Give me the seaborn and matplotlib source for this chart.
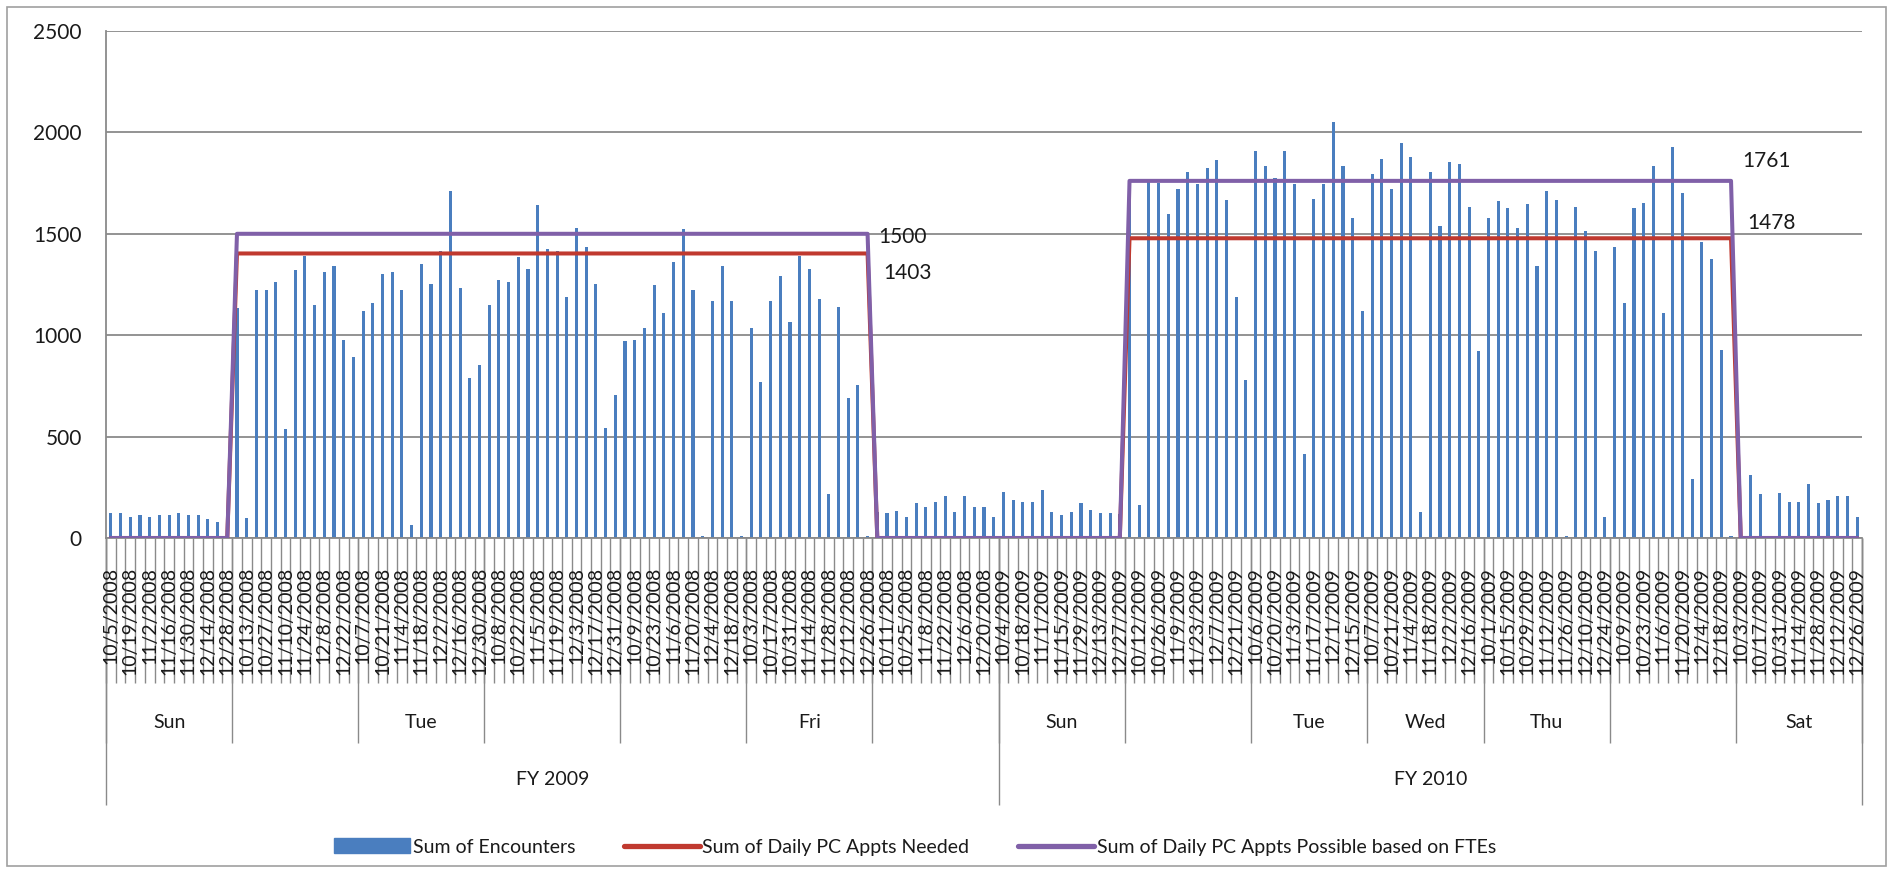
import numpy as np
import pandas as pd
import matplotlib
matplotlib.use("Agg")
import matplotlib.pyplot as plt
import seaborn as sns
from matplotlib.patches import Patch, Rectangle
from matplotlib.lines import Line2D

# ---------------- data ----------------
fiscal_years = ["FY 2009", "FY 2010"]
fy_date_ranges = [("2008-10-01", "2008-12-31"), ("2009-10-01", "2009-12-28")]
weekdays = ["Sun", "Mon", "Tue", "Wed", "Thu", "Fri", "Sat"]
weekday_labels_fy09 = ["Sun", "", "Tue", "", "", "Fri", ""]
weekday_labels_fy10 = ["Sun", "", "Tue", "Wed", "Thu", "", "Sat"]

enc_fy09_sun = [122, 122, 103, 111, 103, 111, 111, 121, 111, 111, 93, 81, 85]
enc_fy09_mon = [1132, 101, 1225, 1225, 1262, 538, 1320, 1390, 1148, 1311, 1339, 977, 891]
enc_fy09_tue = [1121, 1157, 1302, 1310, 1225, 65, 1349, 1254, 1414, 1710, 1233, 787, 854]
enc_fy09_wed = [1148, 1271, 1262, 1385, 1328, 1642, 1425, 1416, 1189, 1531, 1437, 1254, 541, 704]
enc_fy09_thu = [969, 977, 1034, 1246, 1111, 1360, 1523, 1225, 8, 1170, 1341, 1170, 8]
enc_fy09_fri = [1034, 771, 1170, 1293, 1064, 1390, 1328, 1178, 218, 1140, 692, 753, 10]
enc_fy09_sat = [130, 122, 134, 103, 171, 151, 176, 209, 130, 209, 151, 151, 103]

enc_fy10_sun = [225, 187, 176, 176, 236, 130, 111, 130, 171, 138, 122, 122, 120]
enc_fy10_mon = [1750, 163, 1755, 1750, 1596, 1722, 1805, 1746, 1824, 1862, 1665, 1186, 777]
enc_fy10_tue = [1909, 1833, 1776, 1909, 1745, 415, 1673, 1746, 2053, 1833, 1577, 1121]
enc_fy10_wed = [1797, 1870, 1722, 1947, 1881, 130, 1805, 1539, 1854, 1846, 1634, 920]
enc_fy10_thu = [1577, 1662, 1626, 1531, 1645, 1341, 1710, 1665, 8, 1634, 1512, 1417, 106]
enc_fy10_fri = [1434, 1161, 1626, 1653, 1833, 1111, 1930, 1702, 293, 1458, 1376, 929, 8]
enc_fy10_sat = [120, 310, 215, 0, 223, 179, 179, 264, 171, 187, 209, 209, 103]

needed_fy09 = [0, 1403, 1403, 1403, 1403, 1403, 0]
needed_fy10 = [0, 1478, 1478, 1478, 1478, 1478, 0]
possible_fy09 = [0, 1500, 1500, 1500, 1500, 1500, 0]
possible_fy10 = [0, 1761, 1761, 1761, 1761, 1761, 0]

series_names = ["Sum of Encounters", "Sum of Daily PC Appts Needed",
                "Sum of Daily PC Appts Possible based on FTEs"]
y_ticks = [0, 500, 1000, 1500, 2000, 2500]

enc_groups = [
    [enc_fy09_sun, enc_fy09_mon, enc_fy09_tue, enc_fy09_wed, enc_fy09_thu, enc_fy09_fri, enc_fy09_sat],
    [enc_fy10_sun, enc_fy10_mon, enc_fy10_tue, enc_fy10_wed, enc_fy10_thu, enc_fy10_fri, enc_fy10_sat],
]
needed_groups = [needed_fy09, needed_fy10]
possible_groups = [possible_fy09, possible_fy10]
weekday_label_groups = [weekday_labels_fy09, weekday_labels_fy10]

# python weekday(): Mon=0 ... Sun=6
wd_index = {"Sun": 6, "Mon": 0, "Tue": 1, "Wed": 2, "Thu": 3, "Fri": 4, "Sat": 5}

rows = []
pos = 0
for f, fy in enumerate(fiscal_years):
    days = pd.date_range(*fy_date_ranges[f])
    for w, wd in enumerate(weekdays):
        ds = [d for d in days if d.weekday() == wd_index[wd]]
        vals = enc_groups[f][w]
        for d, v in zip(ds, vals):
            rows.append(dict(pos=pos, date=f"{d.month}/{d.day}/{d.year}", fy=f, wd=w,
                             enc=v, needed=needed_groups[f][w], possible=possible_groups[f][w]))
            pos += 1
df = pd.DataFrame(rows)
N = len(df)

# ---------------- style ----------------
sns.set_theme(style="white")
plt.rcParams["font.family"] = ["Lato", "DejaVu Sans"]
BLUE = "#4a7ebf"
RED = "#c0392f"
PURPLE = "#8060a8"
GRID = "#8a8a8a"
TXT = "#1a1a1a"

fig = plt.figure(figsize=(18.96, 8.73), dpi=100)
fig.patch.set_facecolor("white")
ax = fig.add_axes([106 / 1896, 1 - 538 / 873, (1862 - 106) / 1896, (538 - 31) / 873])

sns.barplot(data=df, x="pos", y="enc", native_scale=True, width=0.32, color=BLUE,
            saturation=1, linewidth=0, ax=ax, zorder=2)
sns.lineplot(data=df, x="pos", y="needed", color=RED, lw=2.9, ax=ax,
             estimator=None, sort=False, zorder=3)
sns.lineplot(data=df, x="pos", y="possible", color=PURPLE, lw=2.9, ax=ax,
             estimator=None, sort=False, zorder=4)

ax.set_xlim(-0.5, N - 0.5)
ax.set_ylim(0, 2500)
ax.set_yticks(y_ticks)
ax.set_yticklabels([str(t) for t in y_ticks])
ax.set_xticks([])
ax.set_xlabel("")
ax.set_ylabel("")
ax.yaxis.grid(True, color=GRID, lw=1.3)
ax.set_axisbelow(True)
for s in ["top", "right"]:
    ax.spines[s].set_visible(False)
for s in ["left", "bottom"]:
    ax.spines[s].set_color(GRID)
    ax.spines[s].set_linewidth(1.3)
ax.tick_params(axis="y", length=6.5, color=GRID, width=1.2, pad=11, labelsize=15, labelcolor=TXT)

# ---------------- hierarchical x axis ----------------
xt = ax.get_xaxis_transform()
bounds = np.arange(N + 1) - 0.5
ax.vlines(bounds, -0.286, 0, transform=xt, clip_on=False, colors=GRID, lw=1.0)

grp = df.groupby(["fy", "wd"])["pos"].agg(["min", "max"]).reset_index()
grp_bounds = sorted(set(list(grp["min"] - 0.5) + [N - 0.5]))
ax.vlines(grp_bounds, -0.404, 0, transform=xt, clip_on=False, colors=GRID, lw=1.0)

fyg = df.groupby("fy")["pos"].agg(["min", "max"]).reset_index()
fy_bounds = list(fyg["min"] - 0.5) + [N - 0.5]
ax.vlines(fy_bounds, -0.527, 0, transform=xt, clip_on=False, colors=GRID, lw=1.0)

for i, lab in enumerate(df["date"]):
    if i % 2 == 0:
        ax.text(i, -0.057, lab, rotation=90, ha="center", va="top", transform=xt,
                fontsize=14, color=TXT)

for _, r in grp.iterrows():
    lab = weekday_label_groups[int(r["fy"])][int(r["wd"])]
    if lab:
        ax.text((r["min"] + r["max"]) / 2, -0.363, lab, ha="center", va="center",
                transform=xt, fontsize=14, color=TXT)

for _, r in fyg.iterrows():
    ax.text((r["min"] + r["max"]) / 2, -0.477, fiscal_years[int(r["fy"])], ha="center",
            va="center", transform=xt, fontsize=14, color=TXT)

# ---------------- data labels ----------------
label_offsets = {  # (series, fy): (dx pts, dy pts)
    ("possible", 0): (7.5, -2), ("needed", 0): (11, -14),
    ("possible", 1): (8, 14), ("needed", 1): (12, 11),
}
for f in range(2):
    sub = df[(df["fy"] == f) & (df["possible"] > 0)]
    last = sub.iloc[-1]
    for col in ["possible", "needed"]:
        dx, dy = label_offsets[(col, f)]
        ax.annotate(str(int(last[col])), xy=(last["pos"], last[col]), xytext=(dx, dy),
                    textcoords="offset points", ha="left", va="center", fontsize=15,
                    color=TXT, annotation_clip=False)

# ---------------- legend ----------------
handles = [Patch(facecolor=BLUE, edgecolor=BLUE),
           Line2D([0], [0], color=RED, lw=3.8),
           Line2D([0], [0], color=PURPLE, lw=3.8)]
fig.legend(handles, series_names, loc="center", bbox_to_anchor=(915 / 1896, 1 - 847 / 873),
           ncol=3, frameon=False, fontsize=14, handlelength=3.9, handleheight=0.8,
           handletextpad=0.15, columnspacing=2.5, labelcolor=TXT)

# chart-area border
fig.add_artist(Rectangle((7 / 1896, 1 - 866 / 873), (1886 - 7) / 1896, (866 - 7) / 873,
                         transform=fig.transFigure, fill=False, edgecolor="#a0a0a0", lw=1.2))

fig.savefig("out.png", dpi=100, facecolor="white")
